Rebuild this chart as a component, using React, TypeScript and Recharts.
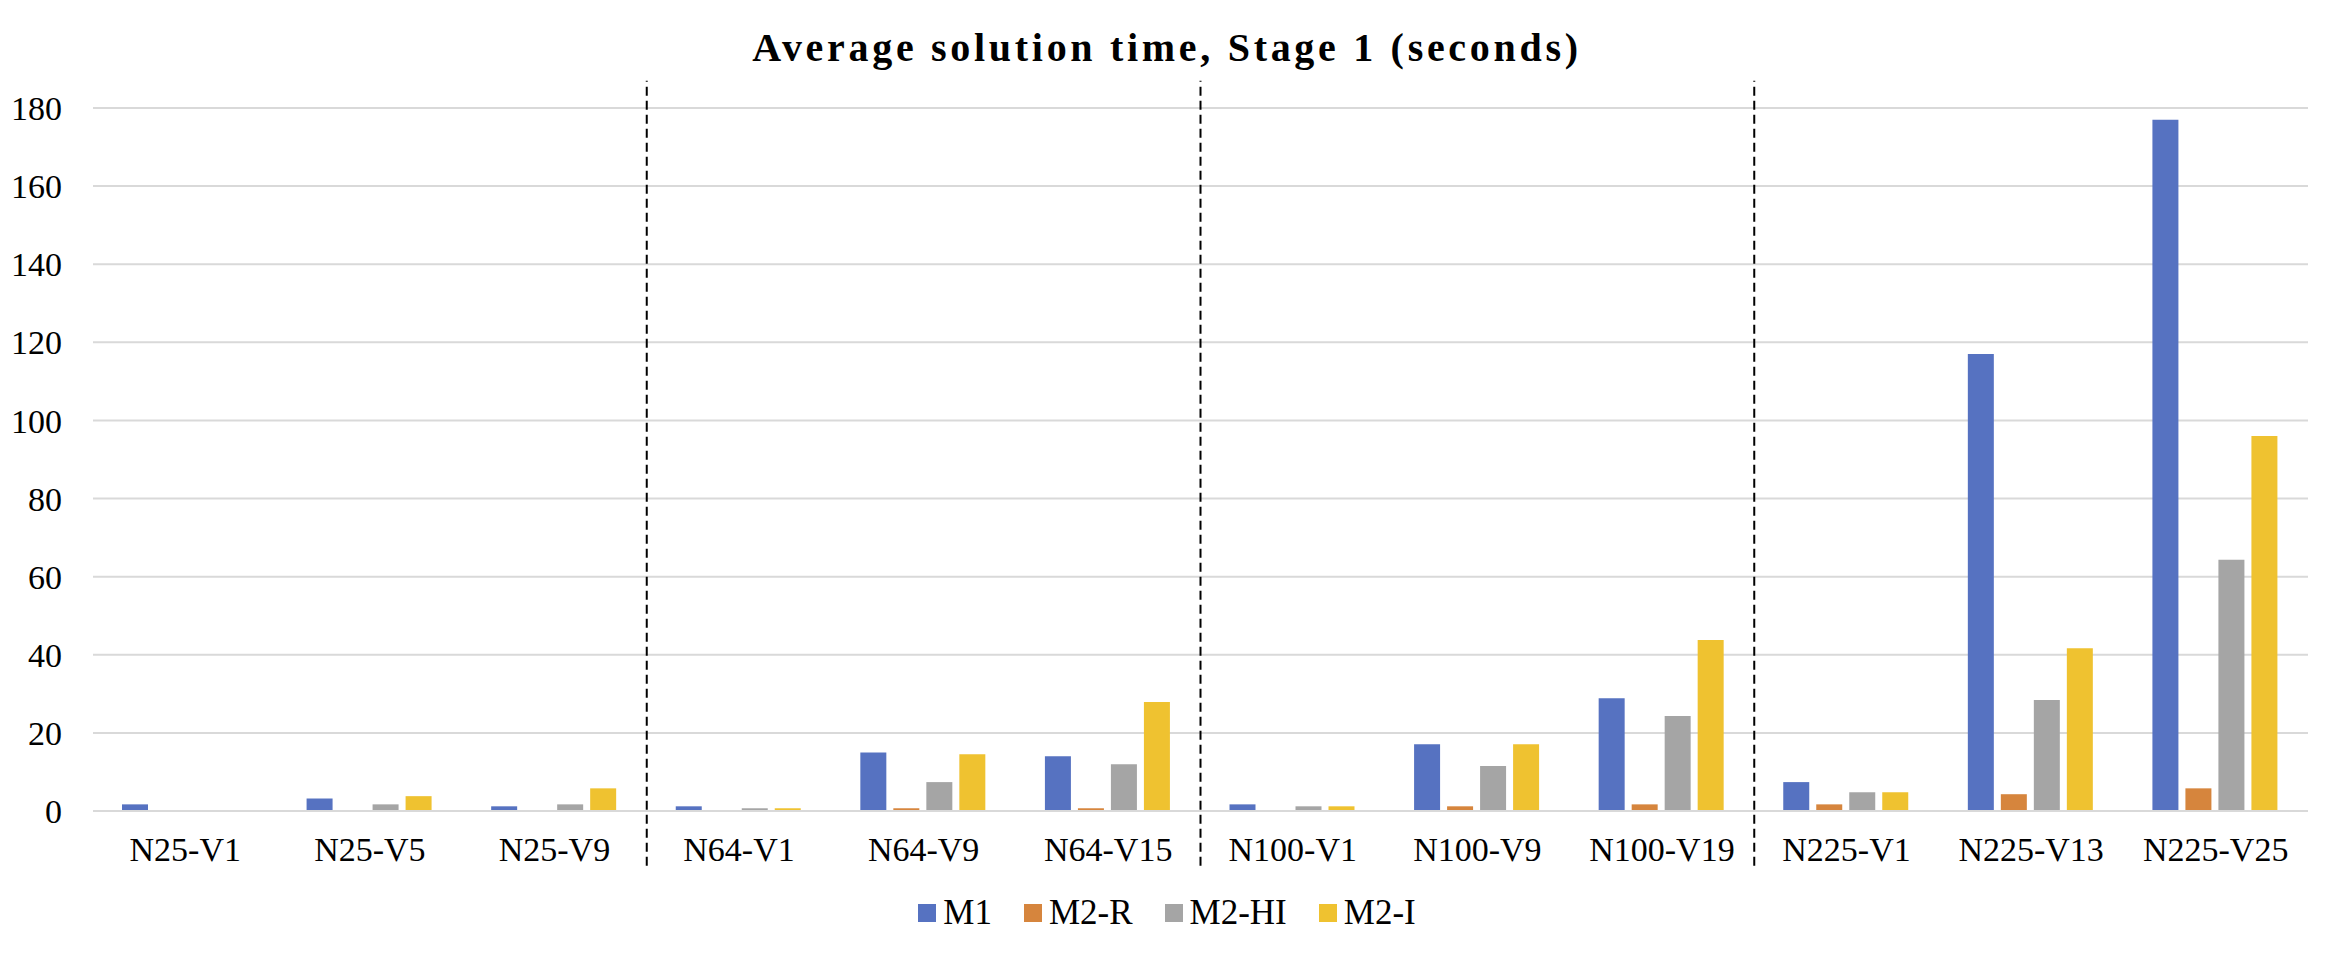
import { BarChart, Bar, XAxis, YAxis, CartesianGrid, ReferenceLine } from "recharts";

const instances = [
  "N25-V1", "N25-V5", "N25-V9",
  "N64-V1", "N64-V9", "N64-V15",
  "N100-V1", "N100-V9", "N100-V19",
  "N225-V1", "N225-V13", "N225-V25",
];

const m1 = [1.7, 3.2, 1.2, 1.2, 15.0, 14.0, 1.7, 17.1, 28.9, 7.4, 117.0, 177.0];
const m2r = [0, 0, 0, 0, 0.7, 0.7, 0, 1.2, 1.7, 1.7, 4.3, 5.8];
const m2hi = [0, 1.7, 1.7, 0.7, 7.4, 12.0, 1.2, 11.5, 24.3, 4.8, 28.4, 64.3];
const m2i = [0, 3.8, 5.8, 0.7, 14.5, 27.9, 1.2, 17.1, 43.8, 4.8, 41.7, 96.0];

const yTicks = [0, 20, 40, 60, 80, 100, 120, 140, 160, 180];

// dashed separators sit after the last instance of each size group
const groupEnds = ["N25-V9", "N64-V15", "N100-V19"];

const series = [
  { key: "M1", values: m1, color: "#5672C1" },
  { key: "M2-R", values: m2r, color: "#D6853D" },
  { key: "M2-HI", values: m2hi, color: "#A5A5A5" },
  { key: "M2-I", values: m2i, color: "#EFC230" },
];

const data = instances.map((name, i) => {
  const row: Record<string, string | number> = { name };
  series.forEach((s) => {
    row[s.key] = s.values[i];
  });
  return row;
});

const FONT = '"Liberation Serif", "Times New Roman", serif';
const W = 2334;
const H = 954;

export default function App() {
  return (
    <div style={{ position: "absolute", left: 0, top: 0, width: W, height: H, background: "#fff", fontFamily: FONT }}>
      <div
        style={{
          position: "absolute",
          left: 0,
          width: W,
          top: 24,
          textAlign: "center",
          fontSize: 40,
          fontWeight: "bold",
          letterSpacing: 3.7,
          color: "#000",
        }}
      >
        Average solution time, Stage 1 (seconds)
      </div>

      <BarChart
        width={W}
        height={H}
        data={data}
        margin={{ top: 108, right: 26, left: 33, bottom: 83 }}
        barCategoryGap={29}
        barGap={7}
      >
        <CartesianGrid vertical={false} stroke="#D9D9D9" strokeWidth={2} />
        <XAxis
          dataKey="name"
          height={60}
          axisLine={{ stroke: "#D9D9D9", strokeWidth: 2 }}
          tickLine={false}
          tickSize={0}
          tickMargin={26}
          tick={{ fontSize: 34, fill: "#000", fontFamily: FONT }}
          interval={0}
        />
        <YAxis
          width={60}
          domain={[0, 180]}
          ticks={yTicks}
          axisLine={false}
          tickLine={false}
          tickSize={0}
          tickMargin={31}
          tick={{ fontSize: 34, fill: "#000", fontFamily: FONT }}
        />
        {series.map((s) => (
          <Bar key={s.key} dataKey={s.key} fill={s.color} isAnimationActive={false} />
        ))}
        {groupEnds.map((name) => (
          <ReferenceLine
            key={name}
            position="end"
            segment={[{ x: name, y: -14 }, { x: name, y: 187 }]}
            stroke="#000"
            strokeWidth={2}
            strokeDasharray="9 5"
            ifOverflow="visible"
          />
        ))}
      </BarChart>

      <div
        style={{
          position: "absolute",
          left: 0,
          width: W,
          top: 893,
          display: "flex",
          justifyContent: "center",
          alignItems: "center",
          fontSize: 35,
          color: "#000",
        }}
      >
        {series.map((s, i) => (
          <div key={s.key} style={{ display: "flex", alignItems: "center", marginLeft: i === 0 ? 0 : 32 }}>
            <span style={{ display: "inline-block", width: 18, height: 18, background: s.color, marginRight: 7 }} />
            <span>{s.key}</span>
          </div>
        ))}
      </div>
    </div>
  );
}
